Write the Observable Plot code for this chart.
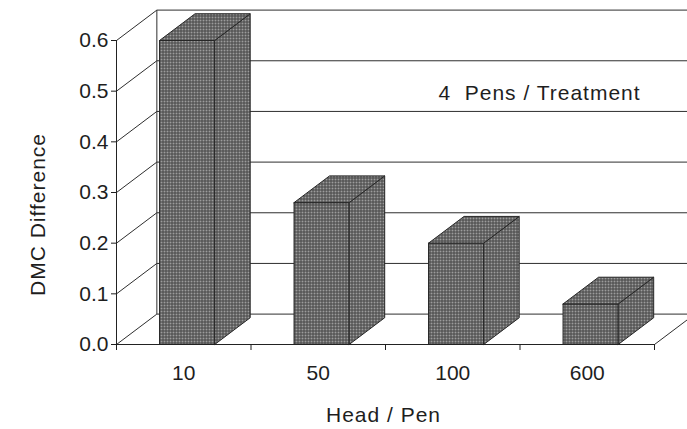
<!DOCTYPE html>
<html>
<head>
<meta charset="utf-8">
<script src="https://cdn.jsdelivr.net/npm/d3@7"></script>
<script src="https://cdn.jsdelivr.net/npm/@observablehq/plot@0.6"></script>
<style>
  html, body { margin: 0; padding: 0; background: #fff; }
  svg { display: block; }
</style>
</head>
<body>
<div id="chart"></div>
<script>
// Head-count treatments and the DMC difference measured for each
const categories = ["10", "50", "100", "600"];
const dmcDifference = [0.60, 0.28, 0.20, 0.08];
const yTicks = [0, 0.1, 0.2, 0.3, 0.4, 0.5, 0.6];
const xTitle = "Head / Pen";
const yTitle = "DMC Difference";
const note = "4\u00a0\u00a0Pens / Treatment";

// Oblique depth of the 3-D box, expressed in data units (x: bands, y: value)
const DEPTH_X = 0.3, DEPTH_Y = 0.06;
const n = categories.length;
const yMax = yTicks[yTicks.length - 1];
const at = (x, y, t) => ({x: x + t * DEPTH_X, y: y + t * DEPTH_Y});

// Back-wall gridlines, left-wall diagonals, and the remaining box edges
const segments = [
  ...yTicks.map(v => ({a: at(0, v, 1), b: at(n, v, 1)})),
  ...yTicks.map(v => ({a: at(0, v, 0), b: at(0, v, 1)})),
  {a: at(0, 0, 1), b: at(0, yMax, 1)},
  {a: at(n, 0, 0), b: at(n, 0, 1)}
];

// Visible faces (front, right side, top) of each column as closed polygons
const faces = [];
dmcDifference.forEach((v, i) => {
  const x0 = i + 0.32, x1 = i + 0.73, t0 = 0, t1 = 0.88;
  const poly = (name, pts) =>
    pts.concat([pts[0]]).forEach(p => faces.push({key: `${i}-${name}`, ...p}));
  poly("front", [at(x0, 0, t0), at(x1, 0, t0), at(x1, v, t0), at(x0, v, t0)]);
  poly("side",  [at(x1, 0, t0), at(x1, 0, t1), at(x1, v, t1), at(x1, v, t0)]);
  poly("top",   [at(x0, v, t0), at(x1, v, t0), at(x1, v, t1), at(x0, v, t1)]);
});

const font = "'Liberation Sans', Arial, Helvetica, sans-serif";

const chart = Plot.plot({
  width: 687,
  height: 429,
  marginLeft: 116,
  marginRight: 33,
  marginTop: 40,
  marginBottom: 85,
  x: {domain: [0, n], label: null},
  y: {domain: [0, yMax], label: null},
  style: {fontFamily: font, fontSize: "21px", color: "#1e1e1e", background: "#fff"},
  marks: [
    Plot.link(segments, {
      x1: d => d.a.x, y1: d => d.a.y, x2: d => d.b.x, y2: d => d.b.y,
      stroke: "#2e2e2e", strokeWidth: 1
    }),
    Plot.line(faces, {
      x: "x", y: "y", z: "key",
      fill: "url(#halftone)", stroke: "#262626", strokeWidth: 1,
      strokeLinejoin: "miter"
    }),
    Plot.ruleX([0], {y1: 0, y2: yMax, stroke: "#222", strokeWidth: 1}),
    Plot.ruleY([0], {x1: 0, x2: n, stroke: "#222", strokeWidth: 1}),
    Plot.axisY(yTicks, {
      tickSize: 5, tickPadding: 3, tickFormat: d3.format(".1f"),
      fontSize: 21, label: null
    }),
    Plot.axisX(d3.range(n + 1), {
      tickSize: 6, tickFormat: () => "", label: null
    }),
    Plot.axisX(categories.map((c, i) => i + 0.5), {
      tickSize: 0, tickPadding: 21, fontSize: 21, label: null,
      tickFormat: d => categories[Math.floor(d)]
    }),
    Plot.text([yTitle], {
      frameAnchor: "left", textAnchor: "middle", rotate: -90, dx: -78, dy: 22,
      fontSize: 21, fill: "#1e1e1e"
    }),
    Plot.text([xTitle], {
      frameAnchor: "bottom", lineAnchor: "bottom", dx: -2, dy: 77,
      fontSize: 21, fill: "#1e1e1e"
    }),
    Plot.text([note], {
      frameAnchor: "top", lineAnchor: "bottom", dx: 154, dy: 59,
      fontSize: 21, fill: "#1e1e1e"
    })
  ]
});

// Halftone fill used by the columns
const defs = d3.select(chart).insert("defs", ":first-child");
const pattern = defs.append("pattern")
  .attr("id", "halftone")
  .attr("patternUnits", "userSpaceOnUse")
  .attr("width", 3).attr("height", 3);
pattern.append("rect").attr("width", 3).attr("height", 3).attr("fill", "#454545");
pattern.append("rect").attr("x", 1).attr("y", 1).attr("width", 2).attr("height", 2).attr("fill", "#9c9c9c");

// Slightly open letter spacing on the titles
d3.select(chart).selectAll("g[aria-label='text'] text").style("letter-spacing", "1px");

document.getElementById("chart").appendChild(chart);
</script>
</body>
</html>
